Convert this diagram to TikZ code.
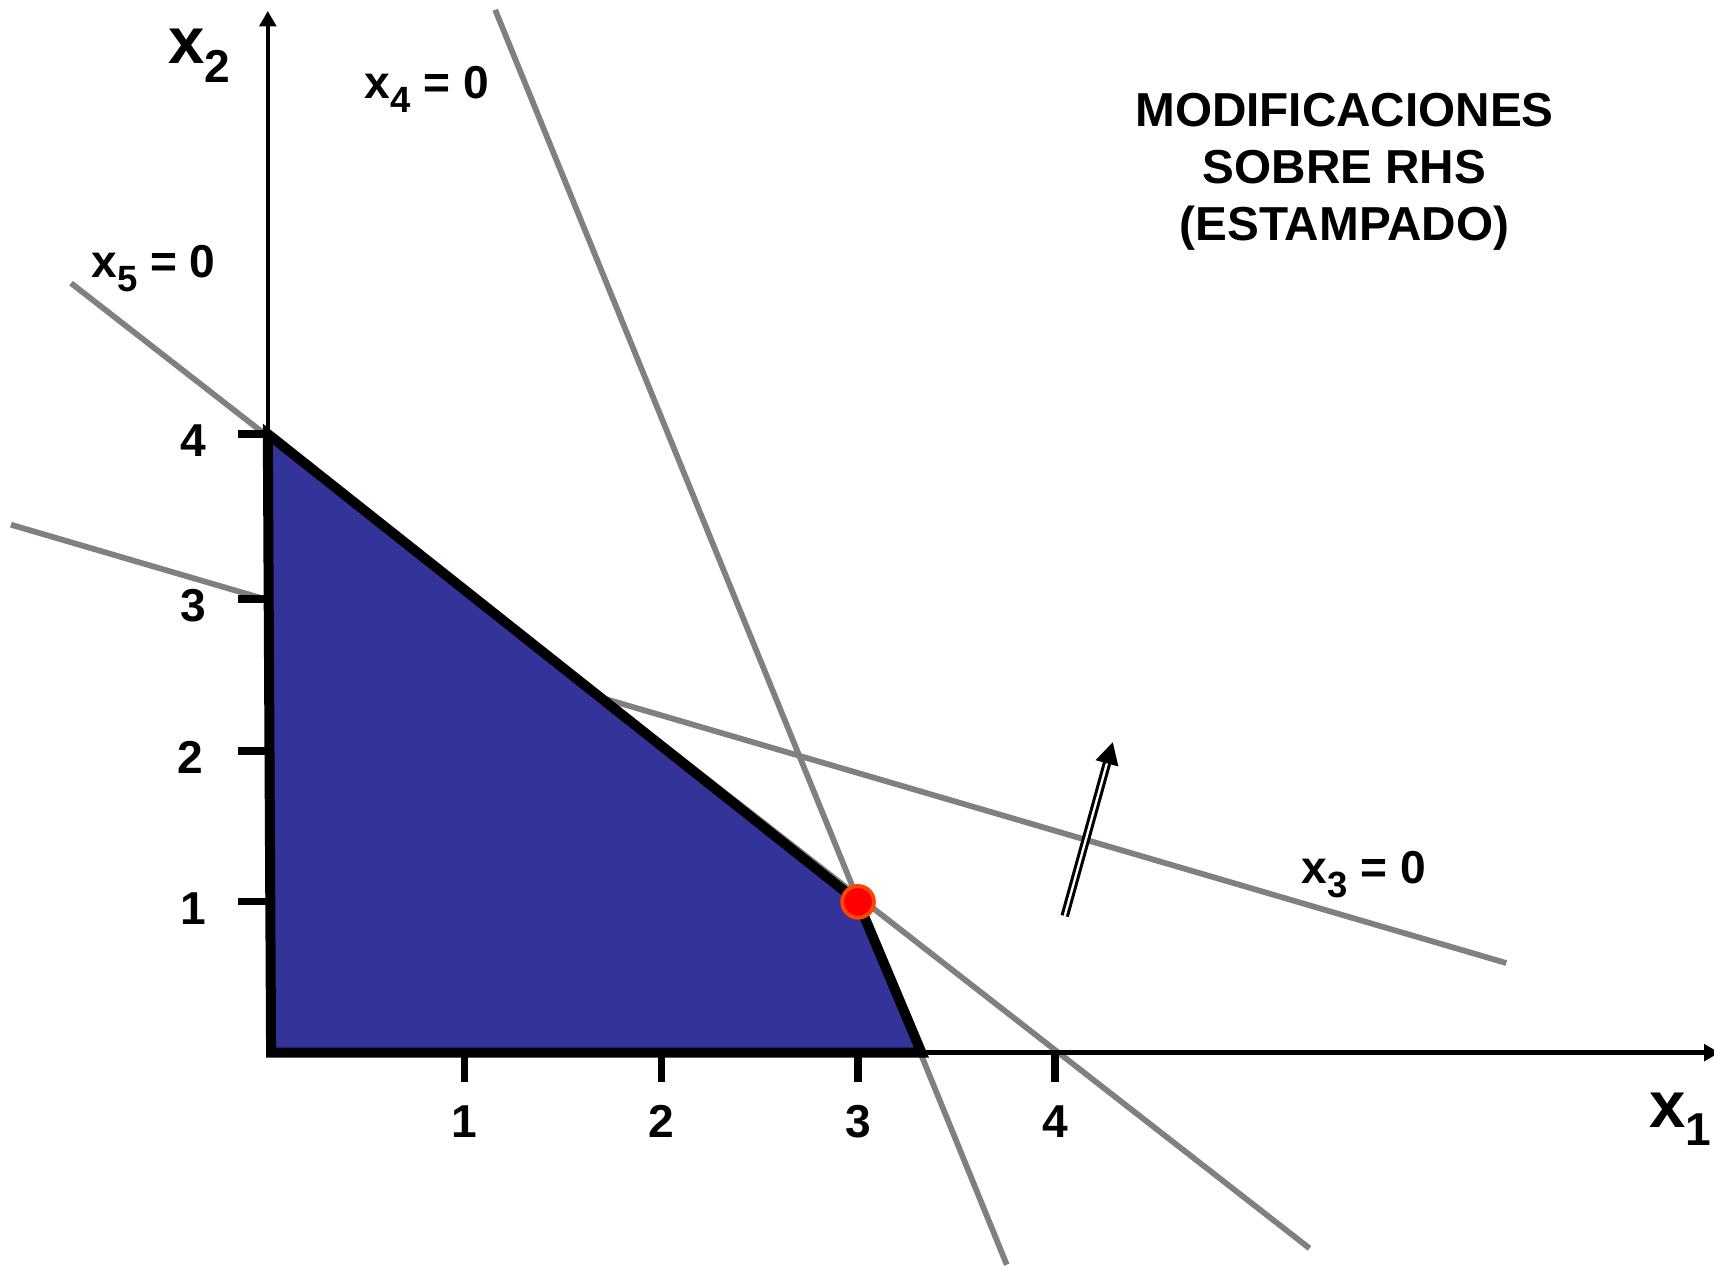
\documentclass[tikz,border=0pt]{standalone}
\usepackage{fontspec}
\setmainfont{Liberation Sans}
\usetikzlibrary{arrows.meta}

\definecolor{feasblue}{RGB}{51,51,153}
\definecolor{linegray}{RGB}{128,128,128}
\definecolor{dotedge}{RGB}{255,69,0}
\newcommand{\slacksub}[1]{x\raisebox{-0.13cm}{\fontsize{9.5}{9.5}\selectfont #1}}
\newcommand{\axsub}[1]{x\raisebox{-0.17cm}{\fontsize{12}{12}\selectfont #1}}

\begin{document}
\begin{tikzpicture}[x=0.01cm, y=-0.01cm,
	lbl/.style={font=\fontsize{12}{14}\selectfont\bfseries, inner sep=0pt},
	axlbl/.style={font=\fontsize{17}{20}\selectfont\bfseries, inner sep=0pt},
	ttl/.style={font=\fontsize{12.4}{15}\selectfont\bfseries, inner sep=0pt, anchor=base},
	constr/.style={linegray, line width=1.5pt},
	ticmark/.style={line width=1.9pt},
	axis/.style={line width=1.2pt, -{Triangle[length=0.14cm, width=0.15cm]}}]
	\useasboundingbox (0, 0) rectangle (1568, 1160);
	\coordinate (O) at (245, 963);
	\coordinate (v4) at (245, 397);
	\coordinate (opt) at (785, 825);
	\coordinate (v1) at (843, 963);
	\coordinate (v0) at (248, 963);
	\draw [constr] (10, 480) -- (1378, 881);
	\draw [constr] (65, 259) -- (1198, 1142);
	\draw [constr] (453, 9) -- (921, 1157);
	\draw [axis] (O) -- (245, 10);
	\draw [axis] (O) -- (1573, 963);
	\draw [fill=feasblue, line width=2.6pt, line join=miter] (v4) -- (opt) -- (v1) -- (v0) -- cycle;
	\foreach \k/\px in {1/425, 2/605, 3/785, 4/965} {
		\draw [ticmark] (\px, 963) -- (\px, 990);
		\node [lbl] (xt\k) at (\px, 1026) {\k};
	}
	\foreach \k/\py/\lx in {1/825/177, 2/687/174, 3/548/177, 4/397/177} {
		\draw [ticmark] (218, \py) -- (246, \py);
		\node [lbl] (yt\k) at (\lx, \py+6) {\k};
	}
	\node [circle, fill=red, draw=dotedge, line width=1pt, minimum size=0.29cm, inner sep=0pt] (optdot) at (opt) {};
	\coordinate (dirtail) at (974, 838);
	\coordinate (dirtip) at (1018, 679);
	\draw [double, line width=0.8pt, double distance=0.6pt, -{Triangle[length=0.2cm, width=0.21cm]}] (dirtail) -- (dirtip);
	\node [axlbl, anchor=base west] (x2lbl) at (153, 58) {\axsub{2}};
	\node [axlbl, anchor=base west] (x1lbl) at (1508, 1031) {\axsub{1}};
	\node [lbl, anchor=base west] (x4lbl) at (333, 90) {\slacksub{4} = 0};
	\node [lbl, anchor=base west] (x5lbl) at (83, 254) {\slacksub{5} = 0};
	\node [lbl, anchor=base west] (x3lbl) at (1190, 808) {\slacksub{3} = 0};
	\node [ttl] (title1) at (1230, 116) {MODIFICACIONES};
	\node [ttl] (title2) at (1230, 168) {SOBRE RHS};
	\node [ttl] (title3) at (1230, 220) {(ESTAMPADO)};
\end{tikzpicture}
\end{document}
